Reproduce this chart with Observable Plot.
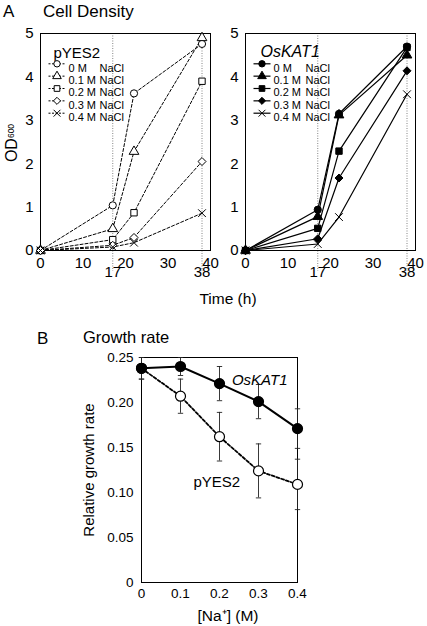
<!DOCTYPE html>
<html><head><meta charset="utf-8">
<script src="https://cdn.jsdelivr.net/npm/d3@7"></script>
<script src="https://cdn.jsdelivr.net/npm/@observablehq/plot@0.6"></script>
<style>
body{margin:0;background:#fff;font-family:"Liberation Sans",Arial,sans-serif;}
#root{position:relative;width:427px;height:626px;overflow:hidden;background:#fff;}
#root > svg{position:absolute;margin:0;max-width:none !important;}
</style></head><body><div id="root"></div>
<script>
// ---------- Data ----------
const times = [0, 17, 22, 38];
const refTimes = [17, 38];
const xTicksA = [0, 10, 20, 30, 40];
const yTicksA = [0, 1, 2, 3, 4, 5];
const concLabels = ["0 M", "0.1 M", "0.2 M", "0.3 M", "0.4 M"];

// pYES2 OD600 per NaCl concentration (at times 0, 17, 22, 38 h)
const pyes2_0M  = [0, 1.04, 3.62, 4.76];
const pyes2_01M = [0, 0.50, 2.28, 4.90];
const pyes2_02M = [0, 0.25, 0.87, 3.90];
const pyes2_03M = [0, 0.12, 0.30, 2.05];
const pyes2_04M = [0, 0.08, 0.18, 0.86];

// OsKAT1 OD600
const oskat1_0M  = [0, 0.94, 3.15, 4.70];
const oskat1_01M = [0, 0.78, 3.12, 4.50];
const oskat1_02M = [0, 0.51, 2.29, 4.68];
const oskat1_03M = [0, 0.27, 1.67, 4.14];
const oskat1_04M = [0, 0.15, 0.77, 3.60];

// Growth rate (panel B)
const naConc = [0, 0.1, 0.2, 0.3, 0.4];
const oskat1Rate = [0.238, 0.240, 0.221, 0.201, 0.171];
const oskat1Err  = [0.012, 0.010, 0.019, 0.019, 0.022];
const pyes2Rate  = [0.238, 0.207, 0.162, 0.124, 0.109];
const pyes2Err   = [0.012, 0.019, 0.027, 0.030, 0.028];
const yTicksB = [0, 0.05, 0.10, 0.15, 0.20, 0.25];

// ---------- Build tables ----------
function longTable(seriesArrays) {
  const rows = [];
  seriesArrays.forEach((vals, i) => vals.forEach((v, j) => rows.push({conc: concLabels[i], t: times[j], od: v})));
  return rows;
}
const pyes2Rows = longTable([pyes2_0M, pyes2_01M, pyes2_02M, pyes2_03M, pyes2_04M]);
const oskat1Rows = longTable([oskat1_0M, oskat1_01M, oskat1_02M, oskat1_03M, oskat1_04M]);
const growthRows = [];
naConc.forEach((n, i) => {
  growthRows.push({strain: "OsKAT1", na: n, rate: oskat1Rate[i], lo: oskat1Rate[i] - oskat1Err[i], hi: oskat1Rate[i] + oskat1Err[i]});
  growthRows.push({strain: "pYES2", na: n, rate: pyes2Rate[i], lo: pyes2Rate[i] - pyes2Err[i], hi: pyes2Rate[i] + pyes2Err[i]});
});

const FONT = "'Liberation Sans', Arial, sans-serif";
const symbolNames = ["circle", "triangle", "square", "diamond2", "times"];
const symbolScale = {domain: concLabels, range: symbolNames};
const root = document.getElementById("root");

// horizontal-segment symbol (legend line samples, error-bar caps)
const hSeg = {draw(context, size) { const w = Math.sqrt(size) / 2; context.moveTo(-w, 0); context.lineTo(w, 0); }};

function place(el, left, top, w, h) {
  el.style.position = "absolute";
  el.style.left = left + "px";
  el.style.top = top + "px";
  el.style.width = w + "px";
  el.style.height = h + "px";
  el.style.maxWidth = "none";
  el.style.overflow = "visible";
  root.appendChild(el);
}

// legend marks placed relative to the frame's top-left corner
function legendMarks({dashed, filled, nacDx}) {
  return concLabels.flatMap((c, i) => {
    const dy = 30.3 + 12.35 * i;
    return [
      Plot.dot([c], {frameAnchor: "top-left", dx: 16.5, dy, symbol: hSeg, r: 17 / Math.sqrt(Math.PI), fill: "none", stroke: "black", strokeWidth: dashed ? 1 : 1.2, strokeDasharray: dashed ? "2,1.5" : null}),
      Plot.dot([c], {frameAnchor: "top-left", dx: 16.5, dy, symbol: symbolNames[i], r: 3.2, stroke: "black", strokeWidth: 1, fill: filled ? "black" : "white"}),
      Plot.text([c], {frameAnchor: "top-left", dx: 28, dy, text: d => d, textAnchor: "start", fontSize: 11, fill: "black"}),
      Plot.text([c], {frameAnchor: "top-left", dx: nacDx, dy, text: () => "NaCl", textAnchor: "start", fontSize: 11, fill: "black"})
    ];
  });
}

// ---------- Panel A ----------
function panelA({rows, left, marginLeft, marginRight, width, dashed, filled, title, italic, titleDx, titleDy, nacDx}) {
  const p = Plot.plot({
    width, height: 300,
    marginLeft, marginRight, marginTop: 33, marginBottom: 50,
    style: {fontFamily: FONT, fontSize: "15px", background: "transparent", overflow: "visible"},
    x: {domain: [0, 40]},
    y: {domain: [0, 5]},
    symbol: symbolScale,
    marks: [
      Plot.ruleX(refTimes, {x: d => d, stroke: "#666", strokeWidth: 0.8, strokeDasharray: "1,1.5", insetBottom: -21}),
      Plot.frame({stroke: "black", strokeWidth: 1}),
      Plot.axisX({ticks: xTicksA, tickFormat: d3.format("d"), tickSize: 0, tickPadding: 7, fontSize: 15, label: null}),
      Plot.axisY({ticks: yTicksA, tickFormat: d3.format("d"), tickSize: 0, tickPadding: 7, fontSize: 15, label: null}),
      Plot.text(refTimes, {x: d => d, frameAnchor: "bottom", dy: 26, fontSize: 15, fill: "black"}),
      Plot.line(rows, {x: "t", y: "od", z: "conc", stroke: "black", strokeWidth: dashed ? 1 : 1.2, strokeDasharray: dashed ? "3,2" : null}),
      Plot.dot(rows, {x: "t", y: "od", symbol: "conc", r: 3.6, stroke: "black", strokeWidth: 1, fill: filled ? "black" : "white"}),
      Plot.text([title], {frameAnchor: "top-left", dx: titleDx, dy: titleDy, textAnchor: "start", fontSize: italic ? 16 : 15, fontStyle: italic ? "italic" : "normal", fill: "black"}),
      ...legendMarks({dashed, filled, nacDx})
    ]
  });
  place(p, left, 0, width, 300);
}

panelA({rows: pyes2Rows, left: 0, marginLeft: 40, marginRight: 5, width: 215, dashed: true, filled: false, title: "pYES2", italic: false, titleDx: 13, titleDy: 13.5, nacDx: 59});
panelA({rows: oskat1Rows, left: 215, marginLeft: 30, marginRight: 12, width: 212, dashed: false, filled: true, title: "OsKAT1", italic: true, titleDx: 15, titleDy: 12, nacDx: 60});

// ---------- Panel B ----------
const fmtB = d => d === 0 ? "0" : d3.format(".2f")(d);
const fmtX = d => d === 0 ? "0" : d3.format(".1f")(d);
const plotB = Plot.plot({
  width: 310, height: 286,
  marginLeft: 141, marginRight: 13, marginTop: 17, marginBottom: 44,
  style: {fontFamily: FONT, fontSize: "13.5px", background: "transparent", overflow: "visible"},
  x: {domain: [0, 0.4]},
  y: {domain: [0, 0.25]},
  marks: [
    Plot.frame({stroke: "black", strokeWidth: 1}),
    Plot.axisX({ticks: naConc, tickFormat: fmtX, tickSize: 0, tickPadding: 6, fontSize: 13.5, label: null}),
    Plot.axisY({ticks: yTicksB, tickFormat: fmtB, tickSize: 0, tickPadding: 8, fontSize: 13.5, label: null}),
    Plot.ruleX(growthRows, {x: "na", y1: "lo", y2: "hi", stroke: "#222", strokeWidth: 0.9}),
    Plot.dot(growthRows, {x: "na", y: "lo", symbol: hSeg, r: 3, stroke: "#222", fill: "none", strokeWidth: 0.9}),
    Plot.dot(growthRows, {x: "na", y: "hi", symbol: hSeg, r: 3, stroke: "#222", fill: "none", strokeWidth: 0.9}),
    Plot.line(growthRows.filter(d => d.strain === "pYES2"), {x: "na", y: "rate", stroke: "black", strokeWidth: 1.8, strokeDasharray: "3,2"}),
    Plot.line(growthRows.filter(d => d.strain === "OsKAT1"), {x: "na", y: "rate", stroke: "black", strokeWidth: 2}),
    Plot.dot(growthRows.filter(d => d.strain === "pYES2"), {x: "na", y: "rate", r: 5, stroke: "black", strokeWidth: 1.2, fill: "white"}),
    Plot.dot(growthRows.filter(d => d.strain === "OsKAT1"), {x: "na", y: "rate", r: 5, stroke: "black", strokeWidth: 1.2, fill: "black"}),
    Plot.text(["OsKAT1"], {frameAnchor: "top-right", dx: -10, dy: 17, textAnchor: "end", fontSize: 15, fontStyle: "italic", fill: "black"}),
    Plot.text(["pYES2"], {frameAnchor: "top-left", dx: 52, dy: 119, textAnchor: "start", fontSize: 15, fill: "black"})
  ]
});
place(plotB, 0, 340, 310, 286);

// ---------- Text overlay (titles and axis labels) ----------
const overlay = d3.select(root).append("svg")
  .attr("width", 427).attr("height", 626)
  .style("position", "absolute").style("left", "0px").style("top", "0px")
  .style("pointer-events", "none")
  .style("font-family", FONT);
function addText(txt, x, y, size, anchor = "start") {
  return overlay.append("text").attr("x", x).attr("y", y).attr("font-size", size).attr("text-anchor", anchor).attr("fill", "black").text(txt);
}
addText("A", 3, 17, 17);
addText("Cell Density", 43, 17, 17);
addText("Time (h)", 228, 304, 15.5, "middle");
addText("B", 37, 344, 17);
addText("Growth rate", 83, 343, 16.5);
addText("[Na⁺] (M)", 228, 621, 15.5, "middle");
overlay.append("text").attr("transform", "translate(94,470) rotate(-90)").attr("text-anchor", "middle")
  .attr("font-size", 15).attr("fill", "black").text("Relative growth rate");
const od = overlay.append("text").attr("transform", "translate(16.5,143) rotate(-90)").attr("text-anchor", "middle")
  .attr("font-size", 16).attr("fill", "black");
od.append("tspan").text("OD");
od.append("tspan").attr("font-size", 8.5).attr("dy", -3).text("600");
</script>
</body></html>
